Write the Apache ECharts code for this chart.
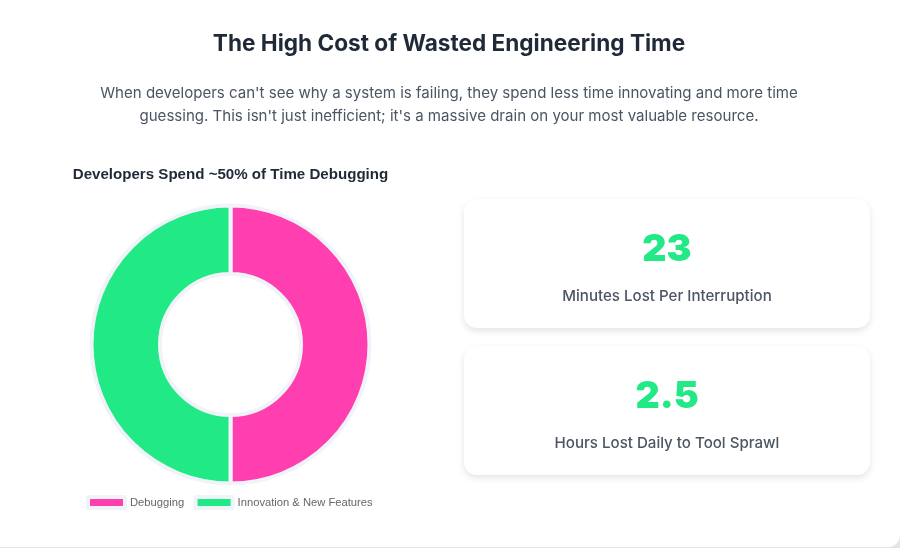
<!DOCTYPE html>
<html>
<head>
<meta charset="utf-8">
<title>The High Cost of Wasted Engineering Time</title>
<script src="https://cdn.jsdelivr.net/npm/echarts@6/dist/echarts.min.js"></script>
<style>
  html, body { margin: 0; padding: 0; background: #e2e4e8; }
  #chart { width: 900px; height: 548px; }
</style>
</head>
<body>
<div id="chart"></div>
<script>
var pageTitle = 'The High Cost of Wasted Engineering Time';
var introLines = [
  "When developers can't see why a system is failing, they spend less time innovating and more time",
  "guessing. This isn't just inefficient; it's a massive drain on your most valuable resource."
];
var donutTitle = 'Developers Spend ~50% of Time Debugging';
var categories = ['Debugging', 'Innovation & New Features'];
var shares = [50, 50];
var colors = ['#ff3eb0', '#20e985'];
var statValues = ['23', '2.5'];
var statLabels = ['Minutes Lost Per Interruption', 'Hours Lost Daily to Tool Sprawl'];

var font = 'Inter, "Noto Sans", sans-serif';
var chartFont = '"Liberation Sans", Arial, sans-serif';
var chart = echarts.init(document.getElementById('chart'), null, {renderer: 'canvas'});

function textAt(x, y, text, size, weight, color, family) {
  return {
    type: 'text',
    x: x,
    y: y,
    z: 5,
    style: {
      text: text,
      fill: color,
      font: weight + ' ' + size + 'px ' + (family || font),
      align: 'center',
      verticalAlign: 'middle'
    }
  };
}

function statCard(top, value, label) {
  return [
    {
      type: 'rect',
      z: 2,
      shape: {x: 464, y: top, width: 406, height: 129, r: 13},
      style: {
        fill: '#fff',
        shadowBlur: 7,
        shadowOffsetY: 3,
        shadowColor: 'rgba(0,0,0,0.11)'
      }
    },
    textAt(667, top + 50.5, value, 37.5, 900, colors[1]),
    textAt(667, top + 97, label, 15.1, 500, '#4b5563')
  ];
}

var pageItems = [
  {
    type: 'rect',
    z: 0,
    shape: {x: -20, y: -20, width: 920, height: 567, r: 12},
    style: {fill: '#fff'}
  },
  textAt(449, 44.5, pageTitle, 22.6, 700, '#1f2937'),
  textAt(449, 93, introLines[0], 15.05, 400, '#4b5563'),
  textAt(449, 116, introLines[1], 15.05, 400, '#4b5563'),
  textAt(230.5, 175, donutTitle, 15.1, 700, '#1f2937', chartFont)
];

chart.setOption({
  animation: false,
  backgroundColor: 'transparent',
  color: colors,
  legend: {
    data: categories,
    icon: 'rect',
    left: 81,
    top: 490,
    itemWidth: 37,
    itemHeight: 11,
    itemGap: 9.5,
    itemStyle: {borderColor: '#f0f4f9', borderWidth: 4},
    textStyle: {fontFamily: chartFont, fontSize: 11.2, color: '#666'}
  },
  graphic: {elements: pageItems.concat(statCard(199, statValues[0], statLabels[0]), statCard(346, statValues[1], statLabels[1]))},
  series: [{
    type: 'pie',
    z: 3,
    center: [230.5, 344.5],
    radius: [70.5, 139],
    startAngle: 90,
    label: {show: false},
    labelLine: {show: false},
    itemStyle: {borderColor: '#f0f4f9', borderWidth: 4},
    data: categories.map(function (name, i) {
      return {name: name, value: shares[i]};
    })
  }]
});
</script>
</body>
</html>
